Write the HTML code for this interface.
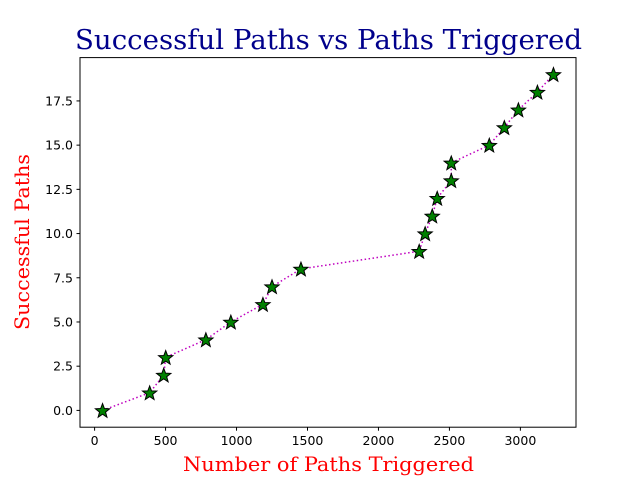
<!DOCTYPE html>
<html><head><meta charset="utf-8"><style>
body{margin:0;background:#fff;}
svg{display:block;}
</style></head><body>
<svg id="chart" width="640" height="480" xmlns="http://www.w3.org/2000/svg">
<rect width="640" height="480" fill="#fff"/>
<text x="328.5" y="49" text-anchor="middle" font-family="'DejaVu Serif',serif" font-size="27" textLength="507" lengthAdjust="spacingAndGlyphs" fill="#00008b">Successful Paths vs Paths Triggered</text>
<text x="328.5" y="471" text-anchor="middle" font-family="'DejaVu Serif',serif" font-size="19.5" textLength="291" lengthAdjust="spacingAndGlyphs" fill="red">Number of Paths Triggered</text>
<text transform="translate(29,242) rotate(-90)" text-anchor="middle" font-family="'DejaVu Serif',serif" font-size="19.5" textLength="176" lengthAdjust="spacingAndGlyphs" fill="red">Successful Paths</text>
</svg>
<script>
const triggered=[56,388,487,501,784,960,1186,1250,1454,2287,2329,2379,2414,2513,2513,2781,2887,2986,3120,3233];
const successful=[0,1,2,3,4,5,6,7,8,9,10,11,12,13,14,15,16,17,18,19];
const xTicks=[0,500,1000,1500,2000,2500,3000];
const yTicks=[0,2.5,5,7.5,10,12.5,15,17.5];
const yTickLabels=["0.0","2.5","5.0","7.5","10.0","12.5","15.0","17.5"];

const L=80,R=576,T=57.6,B=427.2;
const xmin=Math.min(...triggered),xmax=Math.max(...triggered);
const xm=(xmax-xmin)*0.05,x0=xmin-xm,x1=xmax+xm;
const ymin=Math.min(...successful),ymax=Math.max(...successful);
const ym=(ymax-ymin)*0.05,y0=ymin-ym,y1=ymax+ym;
const sx=v=>L+(v-x0)/(x1-x0)*(R-L);
const sy=v=>B-(v-y0)/(y1-y0)*(B-T);
const NS="http://www.w3.org/2000/svg";
const svg=document.getElementById('chart');
function mk(t,a){const e=document.createElementNS(NS,t);for(const k in a)e.setAttribute(k,a[k]);svg.appendChild(e);return e;}

const frame=mk('rect',{x:L,y:T,width:R-L,height:B-T,fill:'none',stroke:'#000','stroke-width':1});



xTicks.forEach(v=>{
  const x=sx(v);
  const t=mk('line',{x1:x,x2:x,y1:B,y2:B+3.5,stroke:'#000'});
  
  
  const l=mk('text',{x:x,y:B+18,'text-anchor':'middle','font-family':'DejaVu Sans,sans-serif','font-size':12.5});
  l.textContent=v;
  
  
});
yTicks.forEach((v,i)=>{
  const y=sy(v);
  const t=mk('line',{x1:L-3.5,x2:L,y1:y,y2:y,stroke:'#000'});
  
  
  const l=mk('text',{x:L-7,y:y+4.5,'text-anchor':'end','font-family':'DejaVu Sans,sans-serif','font-size':12.5});
  l.textContent=yTickLabels[i];
  
  
});

const pts=triggered.map((v,i)=>sx(v)+','+sy(successful[i])).join(' ');
const line=mk('polyline',{points:pts,fill:'none',stroke:'#bf00bf','stroke-width':1.5,'stroke-dasharray':'1.5,2.5'});



function star(cx,cy,r){
  let p=[];
  for(let k=0;k<10;k++){
    const a=-Math.PI/2+k*Math.PI/5;
    const rr=k%2?r*0.42:r;
    p.push((cx+rr*Math.cos(a)).toFixed(2)+','+(cy+rr*Math.sin(a)).toFixed(2));
  }
  return p.join(' ');
}
triggered.forEach((v,i)=>{
  const s=mk('polygon',{points:star(sx(v),sy(successful[i])+0.7,7.5),fill:'green',stroke:'#000','stroke-width':1});
  
  
});
</script>
</body></html>
